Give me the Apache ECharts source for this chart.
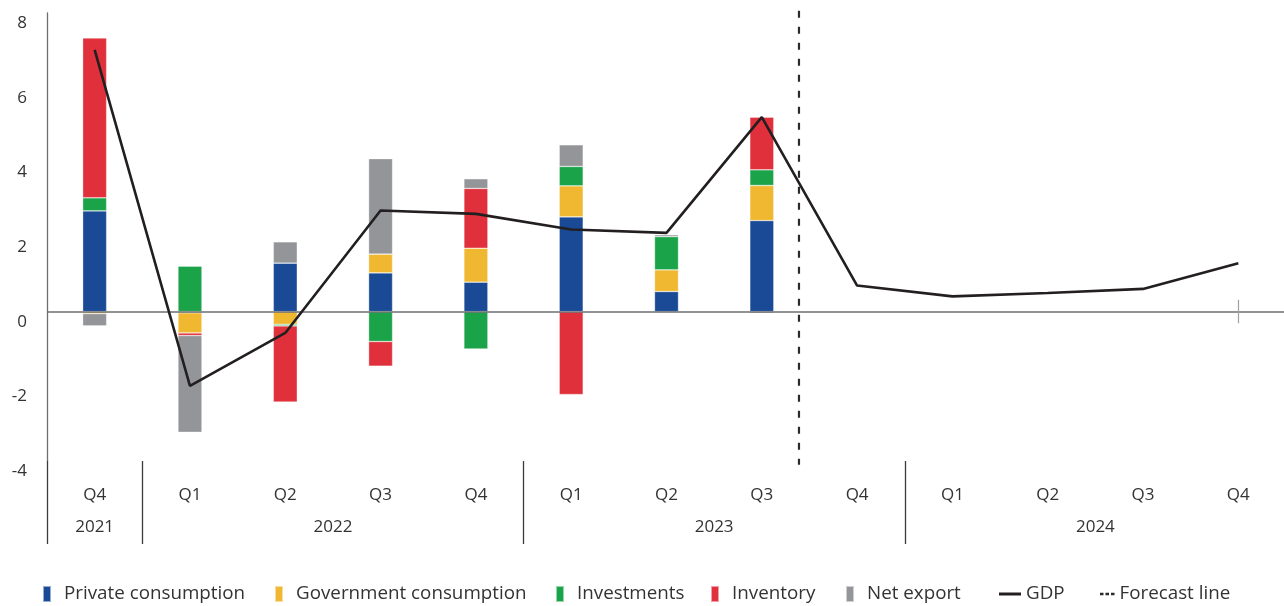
<!DOCTYPE html>
<html>
<head>
<meta charset="utf-8">
<title>GDP growth contributions</title>
<script src="https://cdn.jsdelivr.net/npm/echarts@6/dist/echarts.min.js"></script>
<style>
  html, body { margin: 0; padding: 0; background: #ffffff; }
  #chart { width: 1284px; height: 606px; }
</style>
</head>
<body>
<div id="chart"></div>
<script>
// Quarters on the category axis (year + quarter; only the quarter is printed)
const categories = [
  '2021 Q4',
  '2022 Q1', '2022 Q2', '2022 Q3', '2022 Q4',
  '2023 Q1', '2023 Q2', '2023 Q3', '2023 Q4',
  '2024 Q1', '2024 Q2', '2024 Q3', '2024 Q4'
];

// Year groups under the quarter labels
const years = ['2021', '2022', '2023', '2024'];
const quartersPerYear = [1, 4, 4, 4];

// Contributions to growth, percentage points
const privateConsumption    = [2.70, -0.03, 1.30, 1.04, 0.79, 2.54, 0.54, 2.44, null, null, null, null, null];
const governmentConsumption = [-0.05, -0.54, -0.34, 0.50, 0.91, 0.83, 0.58, 0.94, null, null, null, null, null];
const investments           = [0.35, 1.22, -0.04, -0.80, -1.00, 0.52, 0.89, 0.42, null, null, null, null, null];
const inventory             = [4.28, -0.07, -2.04, -0.66, 1.60, -2.22, null, 1.41, null, null, null, null, null];
const netExport             = [-0.33, -2.59, 0.57, 2.56, 0.26, 0.58, 0.05, -0.04, null, null, null, null, null];

// GDP growth, % (Q4 2023 onwards is forecast)
const gdp = [7.01, -1.99, -0.57, 2.71, 2.62, 2.20, 2.11, 5.21, 0.70, 0.41, 0.50, 0.61, 1.30];

// Where the forecast begins, in category units
const forecastStart = 7.39;

// Value-axis ticks
const yMin = -4, yMax = 8, yStep = 2;

const FONT = 'Open Sans';
const TEXT = '#333333';
const AXIS = '#6d6e71';

// Separator ticks sit on the first quarter of each year; year labels are centred on their group
const separatorIdx = [];
const yearCentres = {};
let start = 0;
years.forEach((y, i) => {
  separatorIdx.push(start);
  const end = start + quartersPerYear[i] - 1;
  yearCentres[((start + end) / 2).toFixed(1)] = y;
  start = end + 1;
});

const barColors = {
  'Private consumption': '#1a4a95',
  'Government consumption': '#f0b830',
  'Investments': '#1ba349',
  'Inventory': '#e0303b',
  'Net export': '#939598'
};
const barData = {
  'Private consumption': privateConsumption,
  'Government consumption': governmentConsumption,
  'Investments': investments,
  'Inventory': inventory,
  'Net export': netExport
};

const barSeries = Object.keys(barData).map(name => ({
  name,
  type: 'bar',
  stack: 'contrib',
  barWidth: 24,
  data: barData[name],
  itemStyle: {
    color: barColors[name],
    borderColor: 'rgba(255,255,255,0.55)',
    borderWidth: 0.6
  },
  emphasis: { disabled: true },
  z: 2
}));

const legendNames = ['Private consumption', 'Government consumption', 'Investments', 'Inventory', 'Net export', 'GDP', 'Forecast line'];
const legendLeft  = [42, 274, 555, 710, 845, 999, 1100];
const legendIcons = {
  'GDP': { icon: 'path://M0,0H22V3H0Z', w: 22, h: 3 },
  'Forecast line': { icon: 'path://M0,0H3.5V2.6H0Z M5.5,0H9V2.6H5.5Z M11,0H14.5V2.6H11Z', w: 14.5, h: 2.6 }
};

const legends = legendNames.map((name, i) => {
  const li = legendIcons[name];
  return {
    data: [name],
    left: legendLeft[i],
    top: 584,
    padding: 0,
    selectedMode: false,
    icon: li ? li.icon : 'rect',
    itemWidth: li ? li.w : 8,
    itemHeight: li ? li.h : 16,
    textStyle: {
      fontFamily: FONT,
      fontSize: 18.8,
      color: TEXT,
      lineHeight: 20,
      padding: [0, 0, 0, li ? 0 : 8]
    }
  };
});

const chart = echarts.init(document.getElementById('chart'), null, { renderer: 'canvas' });

chart.setOption({
  animation: false,
  backgroundColor: '#ffffff',
  textStyle: { fontFamily: FONT },
  // the plot runs a couple of pixels past the right edge of the canvas
  grid: {
    left: 47, width: 1239, top: 13, height: 448,
    containLabel: false,
    outerBoundsMode: 'none'
  },
  legend: legends,
  xAxis: [
    {
      type: 'category',
      data: categories,
      position: 'bottom',
      axisLine: { show: false, onZero: false },
      axisTick: {
        show: true,
        alignWithLabel: false,
        length: 83,
        interval: (idx) => separatorIdx.includes(idx),
        lineStyle: { color: '#3a3a3a', width: 1.3 }
      },
      axisLabel: {
        interval: 0,
        margin: 24,
        fontFamily: FONT,
        fontSize: 17,
        lineHeight: 20,
        color: TEXT,
        formatter: (v) => v.split(' ')[1]
      },
      splitLine: { show: false }
    },
    {
      type: 'value',
      min: -0.5,
      max: 12.5,
      interval: 0.5,
      position: 'bottom',
      axisLine: { show: false, onZero: false },
      axisTick: { show: false },
      splitLine: { show: false },
      axisLabel: {
        margin: 56,
        fontFamily: FONT,
        fontSize: 17,
        lineHeight: 20,
        color: TEXT,
        showMinLabel: true,
        showMaxLabel: true,
        formatter: (v) => yearCentres[Number(v).toFixed(1)] || ''
      }
    }
  ],
  yAxis: {
    type: 'value',
    min: yMin,
    max: yMax,
    interval: yStep,
    axisLine: { show: true, onZero: false, lineStyle: { color: AXIS, width: 1.3 } },
    axisTick: { show: false },
    splitLine: { show: false },
    axisLabel: {
      margin: 20,
      fontFamily: FONT,
      fontSize: 17,
      lineHeight: 20,
      verticalAlign: 'top',
      color: TEXT
    }
  },
  series: [
    ...barSeries,
    {
      name: 'GDP',
      type: 'line',
      data: gdp,
      symbol: 'none',
      z: 5,
      lineStyle: { color: '#231f20', width: 2.6 },
      itemStyle: { color: '#231f20' },
      emphasis: { disabled: true },
      markLine: {
        silent: true,
        symbol: ['none', 'none'],
        label: { show: false },
        z: 4,
        data: [
          { yAxis: 0, lineStyle: { color: AXIS, width: 1.6, type: 'solid' } },
          [
            { coord: [categories.length - 1, 0.32], lineStyle: { color: '#a0a0a0', width: 1.2, type: 'solid' } },
            { coord: [categories.length - 1, -0.31] }
          ]
        ]
      }
    },
    {
      name: 'Forecast line',
      type: 'line',
      xAxisIndex: 1,
      data: [[forecastStart, yMax + 0.06], [forecastStart, yMin - 0.1]],
      symbol: 'none',
      clip: false,
      z: 6,
      lineStyle: { color: '#2b2b2b', width: 2.2, type: [7, 9] },
      itemStyle: { color: '#2b2b2b' },
      emphasis: { disabled: true }
    }
  ]
});
</script>
</body>
</html>
